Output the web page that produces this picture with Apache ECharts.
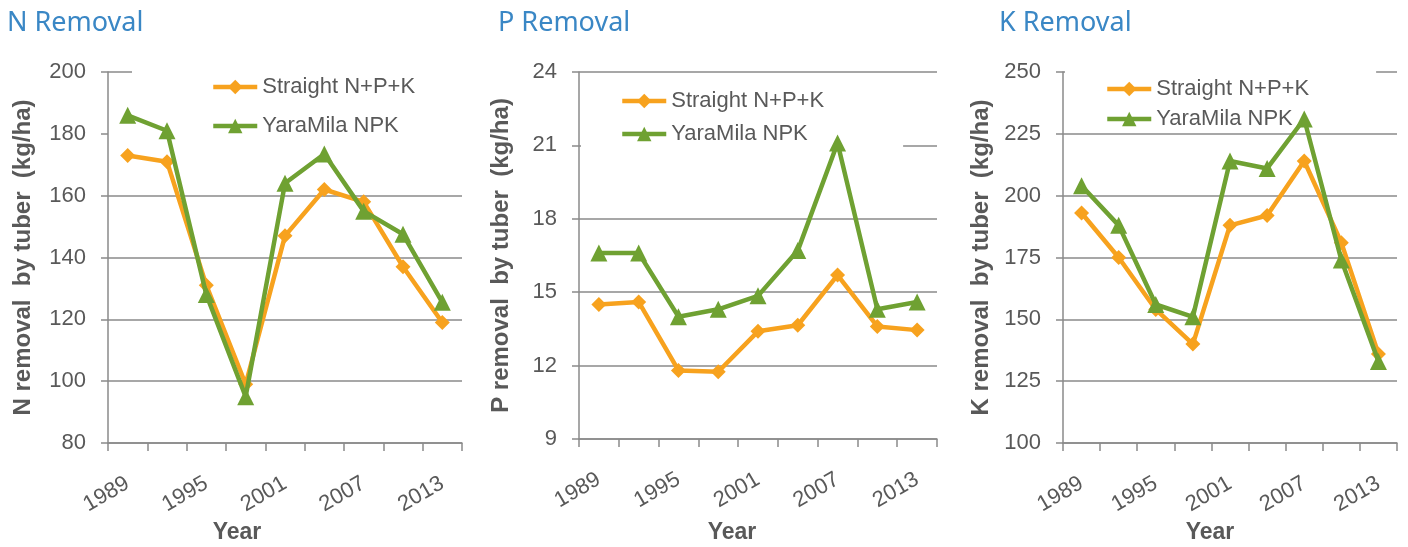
<!DOCTYPE html>
<html>
<head>
<meta charset="utf-8">
<title>N, P, K removal</title>
<script src="https://cdn.jsdelivr.net/npm/echarts@6/dist/echarts.min.js"></script>
<style>
  html, body { margin: 0; padding: 0; background: #fff; }
  #chart { width: 1408px; height: 547px; }
</style>
</head>
<body>
<div id="chart"></div>
<script>
// Data (kg/ha removed by tuber)
const years = ['1989', '1992', '1995', '1998', '2001', '2004', '2007', '2010', '2013'];

const nStraight = [173, 171, 131, 99, 147, 162, 158, 137, 119];
const nYara     = [186, 181, 128, 95, 164, 173.5, 155, 147.5, 125.5];

const pStraight = [14.5, 14.6, 11.8, 11.75, 13.4, 13.65, 15.7, 13.6, 13.45];
const pYara     = [16.6, 16.6, 14.0, 14.3, 14.85, 16.7, 21.1, 14.3, 14.6];

const kStraight = [193, 175, 154, 140, 188, 192, 214, 181, 136];
const kYara     = [204, 188, 156, 151, 214, 211, 231, 174, 133];

const seriesNames = ['Straight N+P+K', 'YaraMila NPK'];

const orange = '#F7A21E';
const green = '#6FA132';
const grey = '#595959';
const lineGrey = '#8a8a8a';

// Panels layout
const panels = [
    {
        title: 'N Removal', titleLeft: 7, yName: 'N removal  by tuber  (kg/ha)',
        grid: { left: 108, top: 72, width: 354, height: 371 },
        min: 80, max: 200, interval: 20, nameGap: 73,
        splitColors: [lineGrey, lineGrey, lineGrey, lineGrey, lineGrey, 'rgba(0,0,0,0)', lineGrey],
        legend: { left: 132, top: 70, itemGap: 17, padding: [6, 50, 2, 79] },
        yearX: 237,
        straight: nStraight, yara: nYara
    },
    {
        title: 'P Removal', titleLeft: 498, yName: 'P removal  by tuber  (kg/ha)',
        grid: { left: 579, top: 72, width: 358, height: 367 },
        min: 9, max: 24, interval: 3, nameGap: 66,
        splitColors: [lineGrey],
        legend: { left: 581, top: 80, itemGap: 11, padding: [10, 79, 6, 39] },
        yearX: 732,
        straight: pStraight, yara: pYara
    },
    {
        title: 'K Removal', titleLeft: 999, yName: 'K removal  by tuber  (kg/ha)',
        grid: { left: 1063, top: 72, width: 334, height: 371 },
        min: 100, max: 250, interval: 25, nameGap: 70,
        splitColors: [lineGrey],
        legend: { left: 1065, top: 68, itemGap: 8, padding: [10, 67, 1, 40] },
        yearX: 1210,
        straight: kStraight, yara: kYara
    }
];

const titles = [], grids = [], xAxes = [], yAxes = [], legends = [], series = [], graphics = [];

panels.forEach((p, i) => {
    titles.push({
        text: p.title,
        left: p.titleLeft,
        top: 10,
        padding: 0,
        textStyle: { color: '#3A87C5', fontSize: 27, fontWeight: 'normal', fontFamily: 'Noto Sans' }
    });
    grids.push(p.grid);
    xAxes.push({
        type: 'category',
        gridIndex: i,
        data: years,
        boundaryGap: true,
        axisLine: { lineStyle: { color: lineGrey, width: 1.5 } },
        axisTick: { show: true, interval: 0, length: 8, lineStyle: { color: lineGrey, width: 1.5 } },
        axisLabel: { interval: 1, rotate: 30, margin: 39, fontSize: 22, color: grey },
        splitLine: { show: false }
    });
    yAxes.push({
        type: 'value',
        gridIndex: i,
        min: p.min,
        max: p.max,
        interval: p.interval,
        name: p.yName,
        nameLocation: 'middle',
        nameRotate: 90,
        nameGap: p.nameGap,
        nameTextStyle: { fontSize: 24, fontWeight: 'bold', color: grey },
        axisLine: { show: true, lineStyle: { color: lineGrey, width: 1.5 } },
        axisTick: { show: true, length: 7, lineStyle: { color: lineGrey, width: 1.5 } },
        axisLabel: { fontSize: 22, color: grey, margin: 22 },
        splitLine: { show: true, lineStyle: { color: p.splitColors, width: 1.5 } }
    });
    legends.push(Object.assign({
        orient: 'vertical',
        data: seriesNames,
        itemWidth: 44,
        itemHeight: 18,
        backgroundColor: '#fff',
        z: 1,
        selectedMode: false,
        lineStyle: { width: 4.5 },
        textStyle: { fontSize: 22, color: grey }
    }, p.legend));
    series.push({
        name: seriesNames[0],
        type: 'line',
        xAxisIndex: i,
        yAxisIndex: i,
        data: p.straight,
        symbol: 'diamond',
        symbolSize: 15,
        color: orange,
        lineStyle: { width: 4.5, color: orange },
        itemStyle: { color: orange },
        z: 3
    });
    series.push({
        name: seriesNames[1],
        type: 'line',
        xAxisIndex: i,
        yAxisIndex: i,
        data: p.yara,
        symbol: 'triangle',
        symbolSize: 17,
        color: green,
        lineStyle: { width: 4.5, color: green },
        itemStyle: { color: green },
        z: 4
    });
    graphics.push({
        type: 'text',
        x: p.yearX,
        y: 533,
        style: {
            text: 'Year',
            align: 'center',
            verticalAlign: 'middle',
            fontSize: 23,
            fontWeight: 'bold',
            fill: grey,
            fontFamily: 'Liberation Sans'
        }
    });
});

const myChart = echarts.init(document.getElementById('chart'), null, { renderer: 'canvas' });
const option = {
    backgroundColor: '#fff',
    animation: false,
    textStyle: { fontFamily: 'Liberation Sans' },
    title: titles,
    grid: grids,
    xAxis: xAxes,
    yAxis: yAxes,
    legend: legends,
    graphic: graphics,
    series: series
};
myChart.setOption(option, true);
</script>
</body>
</html>
